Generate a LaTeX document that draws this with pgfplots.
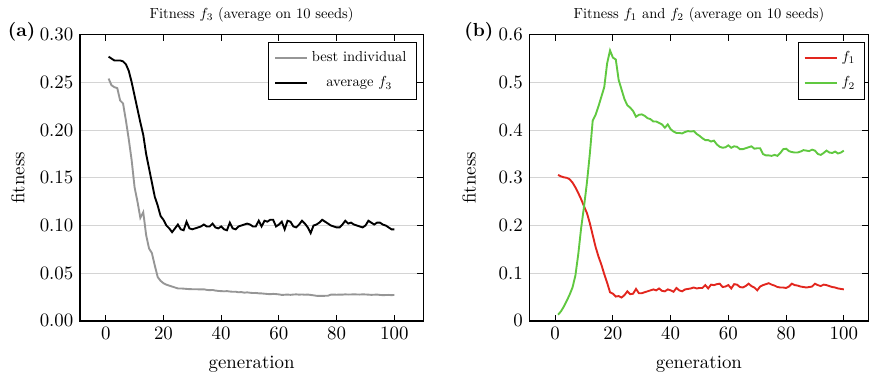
\documentclass[border=0pt]{standalone}
\usepackage{graphicx}
\usepackage{pgfplots}
\usepackage{pgfplotstable}
\pgfplotsset{compat=1.18}
\definecolor{bestgray}{RGB}{150,150,150}
\definecolor{fred}{RGB}{226,38,30}
\definecolor{fgreen}{RGB}{96,200,64}
\definecolor{gridgray}{RGB}{212,212,212}
\newcommand{\sm}[1]{\scalebox{0.77}{#1}}

\pgfplotstableread{
g best avg
1 0.254 0.277
2 0.247 0.275
3 0.245 0.273
4 0.244 0.273
5 0.231 0.273
6 0.228 0.272
7 0.210 0.269
8 0.190 0.262
9 0.168 0.250
10 0.140 0.236
11 0.125 0.222
12 0.108 0.208
13 0.114 0.195
14 0.090 0.175
15 0.076 0.160
16 0.071 0.145
17 0.058 0.130
18 0.046 0.121
19 0.042 0.110
20 0.0395 0.106
21 0.038 0.100
22 0.037 0.097
23 0.036 0.093
24 0.035 0.097
25 0.034 0.101
26 0.0340 0.096
27 0.0338 0.095
28 0.0335 0.104
29 0.0333 0.097
30 0.0332 0.096
31 0.0332 0.097
32 0.0331 0.098
33 0.0330 0.099
34 0.0331 0.101
35 0.0325 0.099
36 0.0322 0.099
37 0.0324 0.102
38 0.0318 0.098
39 0.0314 0.097
40 0.0312 0.099
41 0.0310 0.096
42 0.0312 0.095
43 0.0308 0.103
44 0.0305 0.097
45 0.0306 0.096
46 0.0300 0.099
47 0.0302 0.100
48 0.0296 0.101
49 0.0299 0.102
50 0.0295 0.101
51 0.0292 0.099
52 0.0293 0.099
53 0.0289 0.105
54 0.0288 0.099
55 0.0285 0.105
56 0.0282 0.104
57 0.0280 0.106
58 0.0283 0.106
59 0.0281 0.099
60 0.0278 0.101
61 0.0272 0.104
62 0.0274 0.096
63 0.0276 0.105
64 0.0273 0.104
65 0.0276 0.099
66 0.0278 0.098
67 0.0275 0.101
68 0.0277 0.105
69 0.0274 0.102
70 0.0276 0.098
71 0.0272 0.092
72 0.0268 0.100
73 0.0263 0.101
74 0.0262 0.103
75 0.0262 0.106
76 0.0263 0.104
77 0.0264 0.102
78 0.0275 0.100
79 0.0276 0.099
80 0.0274 0.098
81 0.0276 0.098
82 0.0275 0.101
83 0.0278 0.105
84 0.0276 0.102
85 0.0277 0.103
86 0.0278 0.101
87 0.0277 0.100
88 0.0276 0.099
89 0.0278 0.098
90 0.0277 0.100
91 0.0275 0.105
92 0.0273 0.103
93 0.0274 0.101
94 0.0276 0.103
95 0.0272 0.103
96 0.0270 0.101
97 0.0271 0.100
98 0.0272 0.098
99 0.0270 0.096
100 0.0272 0.096
}\tabA

\pgfplotstableread{
g f1 f2
1 0.306 0.013
2 0.303 0.020
3 0.301 0.030
4 0.300 0.042
5 0.297 0.055
6 0.290 0.070
7 0.280 0.095
8 0.268 0.140
9 0.255 0.195
10 0.240 0.240
11 0.226 0.290
12 0.205 0.350
13 0.180 0.420
14 0.155 0.432
15 0.135 0.450
16 0.118 0.470
17 0.098 0.490
18 0.080 0.540
19 0.060 0.567
20 0.057 0.552
21 0.051 0.548
22 0.052 0.505
23 0.049 0.485
24 0.054 0.465
25 0.062 0.452
26 0.056 0.447
27 0.057 0.440
28 0.067 0.428
29 0.058 0.432
30 0.058 0.433
31 0.060 0.430
32 0.062 0.425
33 0.064 0.423
34 0.066 0.418
35 0.064 0.418
36 0.068 0.415
37 0.063 0.412
38 0.062 0.405
39 0.066 0.412
40 0.064 0.402
41 0.061 0.397
42 0.069 0.394
43 0.064 0.394
44 0.062 0.393
45 0.066 0.396
46 0.067 0.398
47 0.068 0.397
48 0.070 0.398
49 0.068 0.392
50 0.069 0.388
51 0.069 0.383
52 0.075 0.379
53 0.068 0.379
54 0.076 0.376
55 0.075 0.378
56 0.077 0.370
57 0.078 0.365
58 0.071 0.363
59 0.072 0.364
60 0.075 0.368
61 0.068 0.363
62 0.077 0.366
63 0.076 0.365
64 0.071 0.360
65 0.070 0.360
66 0.073 0.362
67 0.078 0.364
68 0.073 0.366
69 0.070 0.361
70 0.064 0.362
71 0.072 0.362
72 0.075 0.350
73 0.077 0.347
74 0.079 0.347
75 0.076 0.346
76 0.074 0.348
77 0.071 0.346
78 0.070 0.352
79 0.070 0.360
80 0.069 0.361
81 0.072 0.356
82 0.078 0.354
83 0.075 0.353
84 0.074 0.353
85 0.072 0.355
86 0.071 0.358
87 0.070 0.357
88 0.071 0.356
89 0.072 0.359
90 0.078 0.357
91 0.075 0.350
92 0.073 0.348
93 0.076 0.352
94 0.075 0.357
95 0.073 0.353
96 0.071 0.352
97 0.070 0.355
98 0.068 0.351
99 0.067 0.353
100 0.066 0.357
}\tabB

\pgfplotsset{
  myax/.style={
    scale only axis,
    clip mode=individual,
    height=151.6pt,
    xtick={0,20,...,100},
    xtick pos=both,
    ytick pos=right,
    yticklabel pos=left,
    tick align=inside,
    major tick length=3.3pt,
    tick style={black, line width=0.6pt},
    axis line style={line width=0.7pt},
    ymajorgrids,
    grid style={gridgray, line width=0.6pt},
    ymin=0,
    xlabel={generation},
    ylabel={fitness},
    xlabel style={at={([yshift=-23pt]axis description cs:0.5,0)}, anchor=center},
    every axis title shift=0pt,
    title style={at={([yshift=10.6pt]axis description cs:0.5,1)}, anchor=center},
    legend style={draw=black, row sep=2.5pt, inner ysep=3pt},
    legend cell align=center,
    legend image post style={line width=1pt},
    every axis plot/.append style={line width=1pt},
  }
}

\begin{document}
\begin{tikzpicture}
\begin{axis}[myax, name=A,
  width=181.8pt,
  xmin=-8.9, xmax=110,
  ymax=0.30,
  ytick={0,0.05,...,0.30},
  yticklabel style={/pgf/number format/fixed, /pgf/number format/fixed zerofill, /pgf/number format/precision=2},
  ylabel style={at={([xshift=-33pt]axis description cs:0,0.5)}, anchor=center},
  title={\sm{Fitness $f_3$ (average on 10 seeds)}},
  legend style={at={(axis description cs:0.98,0.975)}, anchor=north east},
]
\addplot[bestgray] table[x=g, y=best] {\tabA};
\addlegendentry{\sm{best individual}}
\addplot[black] table[x=g, y=avg] {\tabA};
\addlegendentry{\sm{average $f_3$}}
\node[font=\normalsize\bfseries, anchor=east, inner sep=0pt] at ([xshift=-23.5pt,yshift=1.5pt]axis description cs:0,1) {(a)};
\end{axis}
\begin{axis}[myax, name=B,
  at={(238.1pt,0pt)},
  width=179.5pt,
  xmin=-8.9, xmax=108.5,
  ymax=0.6,
  ytick={0,0.1,...,0.6},
  ylabel style={at={([xshift=-32pt]axis description cs:0,0.5)}, anchor=center},
  title={\sm{Fitness $f_1$ and $f_2$ (average on 10 seeds)}},
  legend style={at={(axis description cs:0.99,0.975)}, anchor=north east},
]
\addplot[fred] table[x=g, y=f1] {\tabB};
\addlegendentry{\sm{$f_1$}}
\addplot[fgreen] table[x=g, y=f2] {\tabB};
\addlegendentry{\sm{$f_2$}}
\node[font=\normalsize\bfseries, anchor=east, inner sep=0pt] at ([xshift=-19pt,yshift=1.5pt]axis description cs:0,1) {(b)};
\end{axis}
\path ([xshift=-42.4pt,yshift=-33pt]A.south west) rectangle ([yshift=18.4pt]B.north east);
\end{tikzpicture}
\end{document}
